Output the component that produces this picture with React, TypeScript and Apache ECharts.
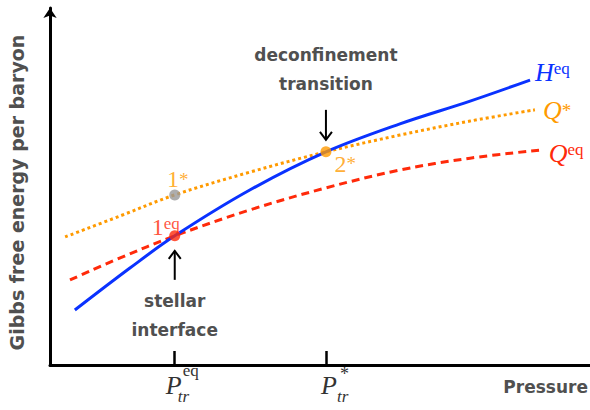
import React, { useEffect, useRef } from "react";
import * as echarts from "echarts";

// Gibbs free energy per baryon vs pressure for the three phases
const hadronP = [0.46, 1.48, 2.31, 3.7, 5.11, 6.48, 7.78, 8.89];
const hadronG = [1.57, 2.77, 3.69, 5.0, 6.09, 6.89, 7.54, 8.14];
const quarkStarP = [0.28, 1.3, 2.31, 3.7, 5.11, 6.48, 7.78, 8.98];
const quarkStarG = [3.66, 4.26, 4.86, 5.51, 6.09, 6.57, 6.97, 7.29];
const quarkEqP = [0.37, 1.3, 2.31, 3.7, 5.11, 6.48, 7.78, 9.07];
const quarkEqG = [2.43, 3.06, 3.69, 4.43, 5.06, 5.57, 5.91, 6.14];

// transition pressures (x ticks) and the marked states
const transitionP = [2.31, 5.11];
const transitionSup = ["eq", "*"];
const stateNames = ["1*", "1eq", "2*"];
const stateP = [2.31, 2.31, 5.11];
const stateG = [4.86, 3.69, 6.09];

const BLUE = "#0a32ff";
const ORANGE = "#ff9a00";
const RED = "#ff2a0a";
const GREY = "#999999";
const TEXT = "#505050";
const SANS = '"DejaVu Sans"';
const SERIF = '"Liberation Serif"';

const zip = (xs: number[], ys: number[]) => xs.map((x, i) => [x, ys[i]]);

const supRich = (color: string) => ({
  v: { fontFamily: SERIF, fontStyle: "italic", fontSize: 26, color, lineHeight: 24 },
  n: { fontFamily: SERIF, fontSize: 24, color, lineHeight: 24 },
  s: { fontFamily: SERIF, fontSize: 17, color, lineHeight: 8, verticalAlign: "top" },
  a: { fontFamily: SERIF, fontSize: 19, color, lineHeight: 24 },
});

export default function App() {
  const ref = useRef<HTMLDivElement>(null);

  useEffect(() => {
    if (!ref.current) return;
    const chart = echarts.init(ref.current, null, { renderer: "svg" });

    const stateStyle = [
      { color: GREY, label: ORANGE, text: "{n|1}{a|*}", position: "top", offset: [3, 5] },
      { color: RED, label: RED, text: "{n|1}{s|eq}", position: "top", offset: [-9, 12] },
      { color: ORANGE, label: ORANGE, text: "{n|2}{a|*}", position: "right", offset: [0, 12] },
    ];

    chart.setOption({
      animation: false,
      grid: { left: 50, right: 0, top: 8, bottom: 45, containLabel: false, outerBoundsMode: "none" },
      xAxis: {
        type: "value",
        min: 0,
        max: 10,
        axisLine: { show: true, lineStyle: { color: "#000", width: 3 } },
        axisTick: {
          show: true,
          customValues: transitionP,
          inside: true,
          length: 14,
          lineStyle: { color: "#000", width: 2.5 },
        },
        axisLabel: { show: false },
        splitLine: { show: false },
      },
      yAxis: {
        type: "value",
        min: 0,
        max: 10.2,
        name: "Gibbs free energy per baryon",
        nameLocation: "middle",
        nameGap: 24,
        nameTextStyle: { fontFamily: SANS, fontWeight: "bold", fontSize: 19, color: TEXT, padding: [0, 12, 0, 0] },
        axisLine: {
          show: true,
          symbol: ["none", "arrow"],
          symbolSize: [10, 10],
          lineStyle: { color: "#000", width: 3 },
        },
        axisTick: { show: false },
        axisLabel: { show: false },
        splitLine: { show: false },
      },
      series: [
        {
          name: "Q*",
          type: "line",
          data: zip(quarkStarP, quarkStarG),
          smooth: 0.35,
          symbol: "none",
          lineStyle: { color: ORANGE, width: 3, type: [3, 3] },
          z: 2,
          endLabel: {
            show: true,
            formatter: "{v|Q}{a|*}",
            rich: supRich(ORANGE),
            distance: 8,
            offset: [0, 1],
          },
        },
        {
          name: "Qeq",
          type: "line",
          data: zip(quarkEqP, quarkEqG),
          smooth: 0.35,
          symbol: "none",
          lineStyle: { color: RED, width: 3, type: [8, 5] },
          z: 2,
          endLabel: {
            show: true,
            formatter: "{v|Q}{s|eq}",
            rich: supRich(RED),
            distance: 9,
            offset: [0, 3],
          },
        },
        {
          name: "Heq",
          type: "line",
          data: zip(hadronP, hadronG),
          smooth: 0.35,
          symbol: "none",
          lineStyle: { color: BLUE, width: 3 },
          z: 3,
          endLabel: {
            show: true,
            formatter: "{v|H}{s|eq}",
            rich: supRich(BLUE),
            distance: 5,
            offset: [0, -8],
          },
        },
        {
          name: "states",
          type: "scatter",
          symbolSize: 11,
          z: 5,
          data: stateNames.map((name, i) => ({
            name,
            value: [stateP[i], stateG[i]],
            itemStyle: { color: stateStyle[i].color },
            label: {
              show: true,
              position: stateStyle[i].position,
              offset: stateStyle[i].offset,
              distance: 3,
              formatter: stateStyle[i].text,
              rich: supRich(stateStyle[i].label),
            },
          })),
        },
      ],
    });

    // annotations placed through the grid's coordinate system
    const toPx = (x: number, y: number) =>
      chart.convertToPixel({ gridIndex: 0 }, [x, y]) as number[];
    const graphic: any[] = [];
    const txt = (text: string, x: number, y: number, font: string, fill: string, align = "center") => ({
      type: "text",
      style: { text, x, y, font, fill, textAlign: align, textVerticalAlign: "middle" },
    });
    const arrow = (x: number, tailY: number, tipY: number) => {
      const dir = tipY > tailY ? -1 : 1;
      const line = { stroke: "#000", lineWidth: 2, fill: "none" };
      return [
        { type: "polyline", shape: { points: [[x, tailY], [x, tipY]] }, style: line },
        {
          type: "polyline",
          shape: { points: [[x - 6, tipY + dir * 8], [x, tipY], [x + 6, tipY + dir * 8]] },
          style: line,
        },
      ];
    };

    // x-axis tick labels P_tr^eq and P_tr^*
    transitionP.forEach((p, i) => {
      const [x] = toPx(p, 0);
      const star = transitionSup[i] === "*";
      const pr = star ? x + 11 : x + 7;
      graphic.push(txt("P", pr, 385, `italic 26px ${SERIF}`, "#333", "right"));
      if (star) graphic.push(txt("*", x + 14, 374, `18px ${SERIF}`, "#333", "left"));
      else graphic.push(txt("eq", x + 8, 370, `17px ${SERIF}`, "#333", "left"));
      graphic.push(txt("tr", star ? x + 11 : x + 3, 396, `italic 17px ${SERIF}`, "#333", "left"));
    });

    // stellar interface: arrow up to state 1eq
    const [sx, sy] = toPx(stateP[1], stateG[1]);
    graphic.push(...arrow(sx, sy + 44, sy + 15));
    graphic.push(txt("stellar", sx, sy + 65, `bold 17px ${SANS}`, TEXT));
    graphic.push(txt("interface", sx, sy + 94, `bold 17px ${SANS}`, TEXT));

    // deconfinement transition: arrow down to state 2*
    const [dx, dy] = toPx(stateP[2], stateG[2]);
    graphic.push(...arrow(dx, dy - 42, dy - 12));
    graphic.push(txt("deconfinement", dx, dy - 97, `bold 17px ${SANS}`, TEXT));
    graphic.push(txt("transition", dx, dy - 68, `bold 17px ${SANS}`, TEXT));

    // x-axis title
    graphic.push(txt("Pressure", 588, 387, `bold 17px ${SANS}`, TEXT, "right"));

    chart.setOption({ graphic });

    return () => chart.dispose();
  }, []);

  return <div ref={ref} style={{ width: 590, height: 410, position: "absolute", left: 0, top: 0 }} />;
}
